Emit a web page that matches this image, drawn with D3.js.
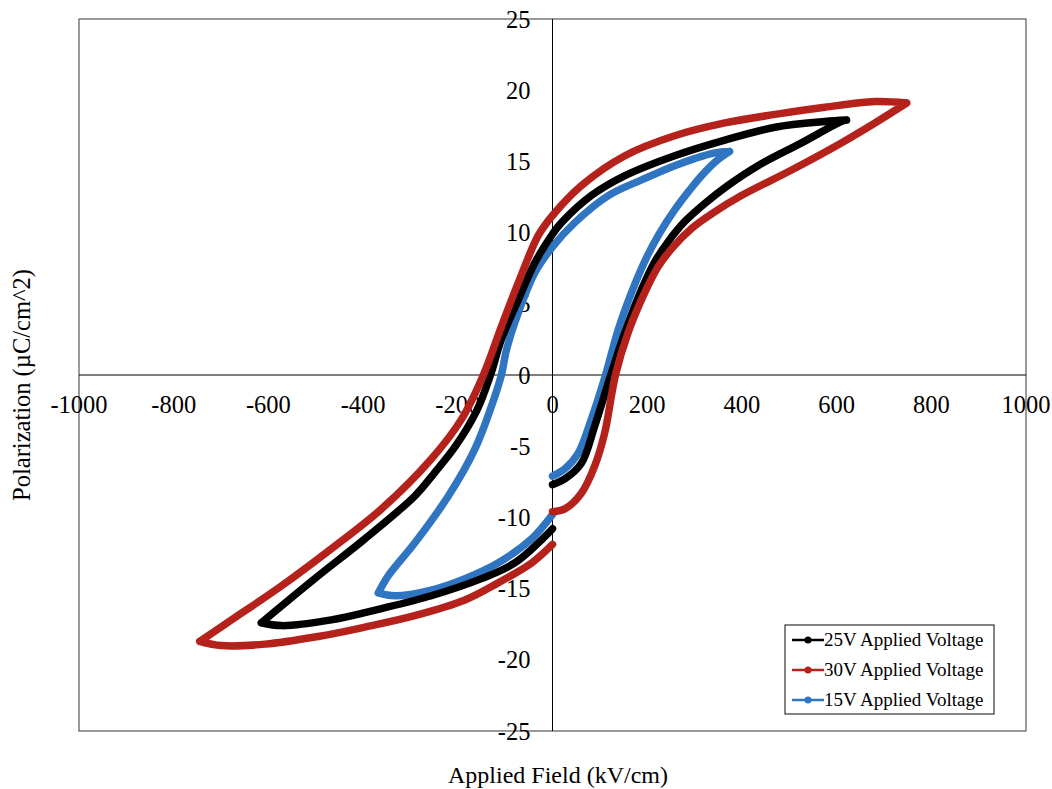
<!DOCTYPE html>
<html>
<head>
<meta charset="utf-8">
<script src="https://cdn.jsdelivr.net/npm/d3@7"></script>
<style>
  body { margin: 0; background: #fff; }
  svg { display: block; }
  text { font-family: "Liberation Serif", "Times New Roman", serif; fill: #000; }
</style>
</head>
<body>
<svg id="chart" width="1052" height="789"></svg>
<script>
// 15V applied voltage
var field15 = [0, 26, 54, 82, 112, 139, 167, 195, 225, 258, 290, 315, 345, 374, 343, 300, 258, 188, 118, 47, 0, -37, -72, -97, -108, -129, -164, -220, -291, -347, -368, -333, -256, -185, -115, -44, 0]
var pol15 = [-7.1, -6.6, -5.5, -3.1, 0, 3.2, 5.8, 8.0, 9.9, 11.6, 13.0, 14.0, 15.0, 15.7, 15.6, 15.2, 14.7, 13.7, 12.6, 10.7, 9.0, 7.2, 4.4, 1.8, 0, -2.2, -5.2, -8.5, -11.8, -14.1, -15.3, -15.5, -15.1, -14.3, -13.2, -11.5, -9.8]

// 25V applied voltage
var field25 = [0, 26, 61, 89, 123, 153, 188, 215, 245, 280, 320, 370, 434, 526, 610, 621, 575, 470, 364, 258, 153, 82, 19, 0, -37, -72, -108, -131, -160, -205, -250, -291, -396, -502, -615, -572, -467, -361, -256, -150, -80, 0]
var pol25 = [-7.7, -7.3, -6.2, -3.6, 0, 3.0, 6.0, 7.9, 9.4, 10.8, 12.0, 13.3, 14.7, 16.3, 17.8, 17.9, 17.8, 17.4, 16.5, 15.4, 14.0, 12.6, 10.7, 9.9, 7.9, 5.3, 2.5, 0, -2.5, -5.0, -6.9, -8.5, -11.5, -14.3, -17.4, -17.6, -17.2, -16.4, -15.5, -14.3, -13.2, -10.8]

// 30V applied voltage
var field30 = [0, 26, 61, 89, 110, 133, 160, 195, 223, 255, 294, 340, 399, 505, 610, 681, 748, 681, 575, 470, 364, 258, 153, 61, 0, -30, -72, -108, -146, -192, -256, -361, -467, -572, -678, -745, -699, -607, -502, -396, -291, -185, -115, -44, 0]
var pol30 = [-9.6, -9.4, -8.3, -6.4, -4.1, 0, 3.0, 5.8, 7.6, 9.0, 10.3, 11.4, 12.6, 14.4, 16.3, 17.7, 19.1, 19.2, 18.8, 18.3, 17.7, 16.8, 15.4, 13.3, 11.2, 9.8, 6.5, 3.4, 0, -3.1, -5.9, -9.4, -12.2, -14.8, -17.2, -18.7, -19.0, -18.9, -18.4, -17.7, -16.9, -15.8, -14.6, -13.2, -11.9]

var xTicks = [-1000, -800, -600, -400, -200, 0, 200, 400, 600, 800, 1000]
var yTicks = [-25, -20, -15, -10, -5, 0, 5, 10, 15, 20, 25]

var seriesNames = ["25V Applied Voltage", "30V Applied Voltage", "15V Applied Voltage"]
var seriesColors = ["#000000", "#b5221b", "#2f75c2"]

var svg = d3.select("#chart")
var plotLeft = 79, plotRight = 1026, plotTop = 19, plotBottom = 731

var x = d3.scaleLinear().domain([-1000, 1000]).range([plotLeft, plotRight])
var y = d3.scaleLinear().domain([-25, 25]).range([plotBottom, plotTop])

// plot frame
svg.append("rect")
    .attr("x", plotLeft).attr("y", plotTop)
    .attr("width", plotRight - plotLeft).attr("height", plotBottom - plotTop)
    .attr("fill", "none").attr("stroke", "#595959").attr("stroke-width", 1.2)

// axes crossing at zero
svg.append("line")
    .attr("x1", plotLeft).attr("x2", plotRight)
    .attr("y1", y(0)).attr("y2", y(0))
    .attr("stroke", "#000").attr("stroke-width", 1)
svg.append("line")
    .attr("x1", x(0)).attr("x2", x(0))
    .attr("y1", plotTop).attr("y2", plotBottom)
    .attr("stroke", "#000").attr("stroke-width", 1)

// tick labels
svg.append("g").selectAll("text")
    .data(xTicks)
    .join("text")
    .attr("x", d => x(d))
    .attr("y", y(0) + 38)
    .attr("text-anchor", "middle")
    .style("font-size", "24.5px")
    .text(d => d)

svg.append("g").selectAll("text")
    .data(yTicks)
    .join("text")
    .attr("x", x(0) - 22)
    .attr("y", d => y(d) + 8.5)
    .attr("text-anchor", "end")
    .style("font-size", "24.5px")
    .text(d => d)

// axis titles
svg.append("text")
    .attr("x", 558).attr("y", 783)
    .attr("text-anchor", "middle")
    .style("font-size", "24px")
    .text("Applied Field (kV/cm)")

svg.append("text")
    .attr("transform", "translate(30," + 385 + ") rotate(-90)")
    .attr("text-anchor", "middle")
    .style("font-size", "24.5px")
    .text("Polarization (\u00b5C/cm^2)")

// loops, split at the two field extremes so the tips stay sharp
var line = d3.line()
    .x(d => x(d[0]))
    .y(d => y(d[1]))
    .curve(d3.curveCatmullRom.alpha(0.5))

function branches(fields, pols) {
    var pts = d3.zip(fields, pols)
    var iMax = d3.maxIndex(fields), iMin = d3.minIndex(fields)
    return [pts.slice(0, iMax + 1), pts.slice(iMax, iMin + 1), pts.slice(iMin)]
}

var loops = [
    {name: seriesNames[2], color: seriesColors[2], parts: branches(field15, pol15)},
    {name: seriesNames[0], color: seriesColors[0], parts: branches(field25, pol25)},
    {name: seriesNames[1], color: seriesColors[1], parts: branches(field30, pol30)}
]

svg.append("g").selectAll("path")
    .data(loops)
    .join("path")
    .attr("d", d => d.parts.map(p => line(p)).join(""))
    .attr("fill", "none")
    .attr("stroke", d => d.color)
    .attr("stroke-width", 7.5)
    .attr("stroke-linejoin", "round")
    .attr("stroke-linecap", "round")

// legend
var lg = svg.append("g").attr("transform", "translate(785,625)")
lg.append("rect")
    .attr("width", 209).attr("height", 89)
    .attr("fill", "#fff").attr("stroke", "#333").attr("stroke-width", 1.2)

var rows = lg.selectAll("g.row")
    .data(seriesNames)
    .join("g")
    .attr("class", "row")
    .attr("transform", (d, i) => "translate(0," + (15 + i * 30) + ")")

rows.append("line")
    .attr("x1", 7).attr("x2", 39)
    .attr("stroke", (d, i) => seriesColors[i]).attr("stroke-width", 2.5)
rows.append("circle")
    .attr("cx", 23).attr("r", 3.5)
    .attr("fill", (d, i) => seriesColors[i])
rows.append("text")
    .attr("x", 39).attr("y", 6)
    .style("font-size", "19px")
    .text(d => d)
</script>
</body>
</html>
